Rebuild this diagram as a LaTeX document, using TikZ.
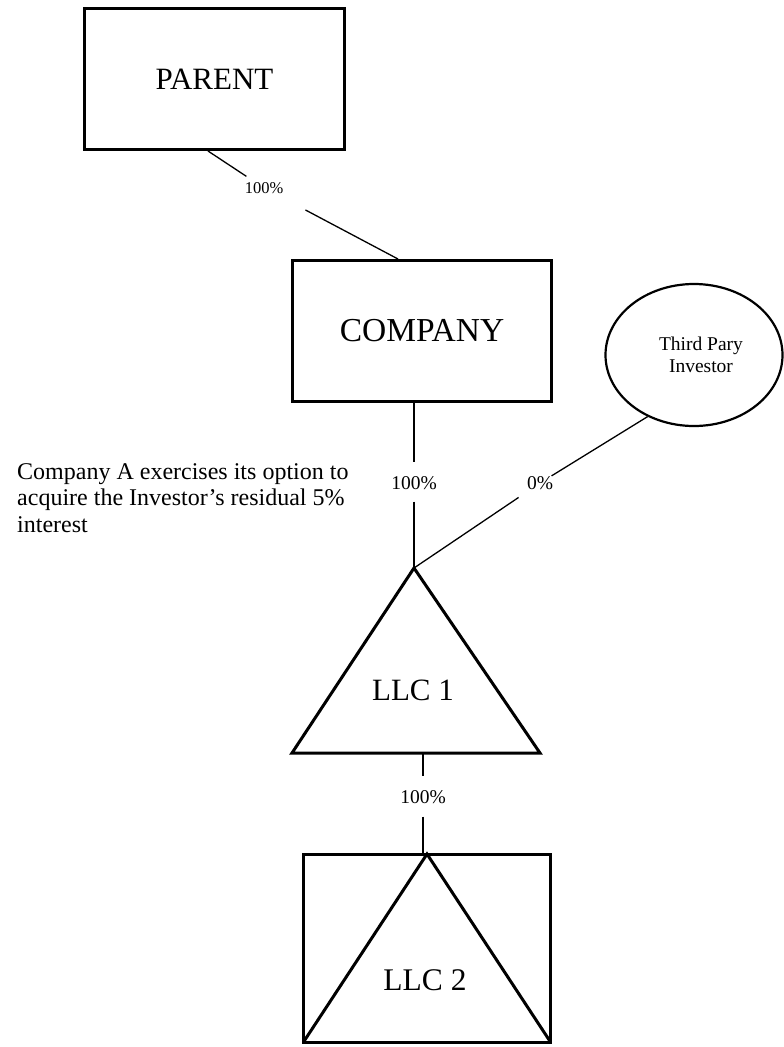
\documentclass[tikz,border=0pt]{standalone}
\usepackage{fontspec}
\setmainfont{Liberation Serif}
\usetikzlibrary{shapes.geometric,calc}
\begin{document}
\begin{tikzpicture}[x=1pt,y=-1pt,
  box/.style={draw,line width=3pt,rectangle,inner sep=0pt,outer sep=0pt},
  conn/.style={line width=1.3pt},
  shapeline/.style={line width=3pt,line join=miter},
  pct/.style={inner sep=0pt,outer sep=0pt,font=\fontsize{19.5}{22}\selectfont},
  bigtext/.style={font=\fontsize{31}{31}\selectfont}]
\useasboundingbox (0,0) rectangle (784,1047);

% boxes
\node[box,minimum width=260pt,minimum height=141pt,font=\fontsize{31}{31}\selectfont] (parent) at (214.5,79) {PARENT};
\node[box,minimum width=259pt,minimum height=141pt,font=\fontsize{33.5}{33.5}\selectfont] (company) at (422,331) {COMPANY};
\node[draw,ellipse,line width=2.2pt,minimum width=177pt,minimum height=142pt,inner sep=0pt,align=center,font=\fontsize{19.5}{22}\selectfont] (investor) at (694,355) {\hspace*{14pt}Third Pary\\\hspace*{14pt}Investor};

% LLC 1 triangle
\coordinate (l1a) at (414,568);
\coordinate (l1l) at (292,753);
\coordinate (l1r) at (540,753);
\draw[shapeline] (l1a) -- (l1l) -- (l1r) -- cycle;
\node[bigtext] (llc1) at (413,690) {LLC 1};

% LLC 2
\node[box,minimum width=247pt,minimum height=188pt] (llc2) at (427,948) {};
\draw[shapeline] (llc2.south west) -- (llc2.north) -- (llc2.south east);
\node[font=\fontsize{31.5}{31.5}\selectfont] (llc2label) at (425,980) {LLC 2};

% note text
\node[anchor=west,align=left,inner sep=0pt,font=\fontsize{24}{26.5}\selectfont] (note) at (17,498) {Company A exercises its option to\\acquire the Investor’s residual 5\%\\interest};

% PARENT -> COMPANY
\coordinate (pOut) at (208,151);
\coordinate (cIn) at (398,259);
\node[pct,font=\fontsize{16.5}{18}\selectfont] (p1) at (264,188) {100\%};
\draw[conn,shorten >=11pt] (pOut) -- (p1);
\draw[conn,shorten <=35pt] (p1) -- (cIn);

% COMPANY -> LLC 1
\node[pct] (p2) at (414,483) {100\%};
\draw[conn,shorten >=14pt] (company.south -| p2) -- (p2);
\draw[conn,shorten <=12pt] (p2) -- (l1a);

% Investor -> LLC 1
\node[pct] (p3) at (540,483) {0\%};
\draw[conn,shorten >=14pt] (l1a) -- (p3);
\draw[conn,shorten <=1pt] (p3) -- (investor.233);

% LLC 1 -> LLC 2
\node[pct] (p4) at (423,797) {100\%};
\draw[conn,shorten >=14pt] (p4 |- l1l) -- (p4);
\draw[conn,shorten <=13pt] (p4) -- (p4 |- llc2.north);
\end{tikzpicture}
\end{document}
